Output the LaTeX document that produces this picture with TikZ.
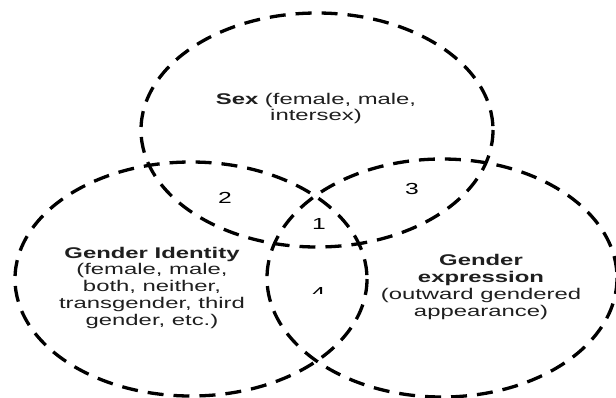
\documentclass[tikz,border=0pt]{standalone}
\usepackage{fontspec}
\setmainfont[FakeStretch=1.54]{Liberation Sans}
\begin{document}
\begin{tikzpicture}[x=1pt,y=-1pt,
  venn/.style={line width=3.3pt, dash pattern=on 16pt off 10pt, black},
  lbl/.style={font=\fontsize{15.5}{16.75}\selectfont, align=center, inner sep=0pt, text=black!88},
  num/.style={font=\fontsize{16}{18}\selectfont, inner sep=0pt, text=black}]
\useasboundingbox (0,0) rectangle (616,397);
\fill[white] (0,0) rectangle (616,397);
% circles
\draw[venn] (317,130) ellipse [x radius=176, y radius=117];
\draw[venn] (191,279) ellipse [x radius=176, y radius=117];
\draw[venn] (442,278) ellipse [x radius=175, y radius=119];
% labels
\node[lbl] (sex) at (316,108.6) {\textbf{Sex} (female, male,\\intersex)};
\node[lbl] (gid) at (152,287.5) {\textbf{Gender Identity}\\(female, male,\\both, neither,\\transgender, third\\gender, etc.)};
\node[lbl] (gex) at (481,287) {\textbf{Gender}\\\textbf{expression}\\(outward gendered\\appearance)};
% region numbers
\node[num] (n1) at (319,224) {1};
\node[num] (n2) at (225,198) {2};
\node[num] (n3) at (412,189) {3};
\begin{scope}
\clip (312,285) rectangle (326,293.5);
\node[num] (n4) at (318.5,292.7) {4};
\end{scope}
\end{tikzpicture}
\end{document}
